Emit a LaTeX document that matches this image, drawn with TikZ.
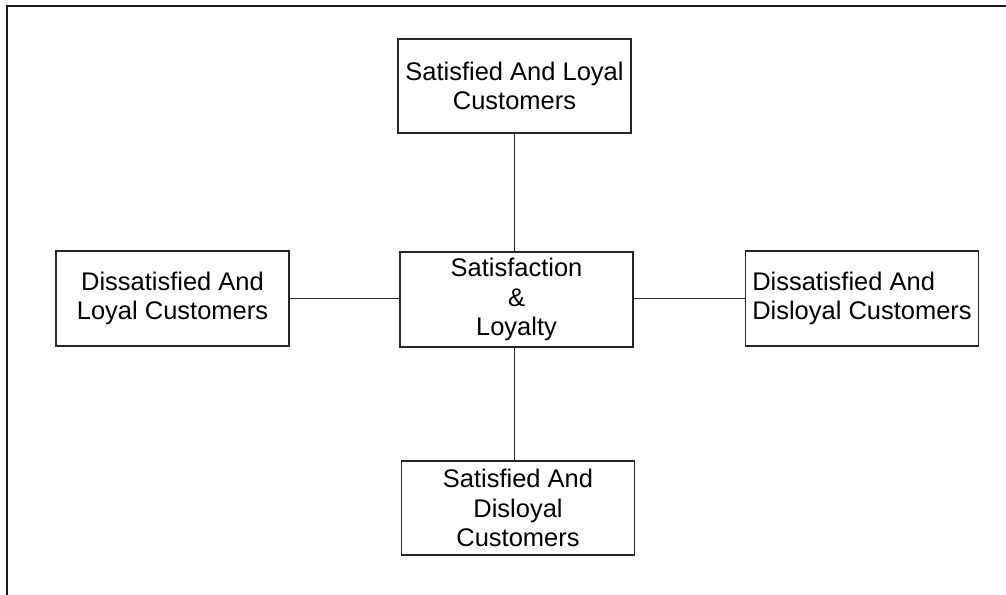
\documentclass[tikz,border=0pt]{standalone}
\usepackage{fontspec}
\setmainfont{Liberation Sans}
\tikzset{
    quadbox/.style={draw=black!85, line width=1.1pt, minimum width=4.66cm, minimum height=1.89cm,
        inner sep=0pt, align=center, font=\fontsize{14.5}{16.8}\selectfont},
    link/.style={draw=black!85, line width=1.1pt}
}
\begin{document}
\begin{tikzpicture}
    \useasboundingbox (0,0) rectangle (20.12,11.9);
    % Frame
    \draw[line width=1.5pt, black!90] (0.14,0) -- (0.14,11.78) -- (20.12,11.78);

    % Boxes
    \node[quadbox] (loyal) at (10.29,10.18) {Satisfied And Loyal\\Customers};
    \node[quadbox] (core) at (10.33,5.91) {Satisfaction\\\&\\Loyalty};
    \node[quadbox] (dissloyal) at (3.45,5.93) {Dissatisfied And\\Loyal Customers};
    \node[quadbox, align=left] (dissdisloyal) at (17.24,5.93) {Dissatisfied And\\Disloyal Customers};
    \node[quadbox] (disloyal) at (10.36,1.74) {Satisfied And\\Disloyal\\Customers};

    % Links
    \draw[link] (loyal.south) -- (loyal.south |- core.north);
    \draw[link] (loyal.south |- core.south) -- (loyal.south |- disloyal.north);
    \draw[link] (dissloyal.east) -- (dissloyal.east -| core.west);
    \draw[link] (dissdisloyal.west) -- (dissdisloyal.west -| core.east);
\end{tikzpicture}
\end{document}
